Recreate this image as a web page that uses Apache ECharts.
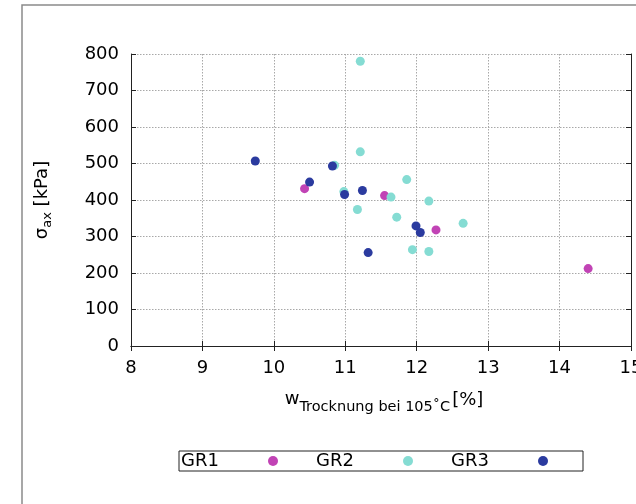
<!DOCTYPE html>
<html>
<head>
<meta charset="utf-8">
<script src="https://cdn.jsdelivr.net/npm/echarts@6/dist/echarts.min.js"></script>
<style>html,body{margin:0;padding:0;background:#fff}#c{width:636px;height:504px}</style>
</head>
<body>
<div id="c"></div>
<script>
const gr1 = [[10.43,431],[11.55,412],[12.27,318],[14.40,212]];
const gr2 = [[10.85,495],[11.21,780],[11.21,532],[11.86,456],[10.98,423],[11.64,408],[12.17,397],[11.17,374],[11.72,353],[12.65,336],[11.94,264],[12.17,259]];
const gr3 = [[9.74,507],[10.82,493],[10.50,449],[10.99,415],[11.24,426],[11.32,256],[11.99,329],[12.05,311]];
const seriesNames = ['GR1','GR2','GR3'];
const colors = ['#c143b5','#85dcd3','#2b3b9f'];

const font = '"DejaVu Sans", sans-serif';
const chart = echarts.init(document.getElementById('c'));
const gridLine = {show:true, lineStyle:{color:'#a8a8a8', type:[1.5,1.5], width:1}};
chart.setOption({
  animation:false,
  textStyle:{fontFamily:font},
  grid:{left:131, right:5, top:54, bottom:158, outerBoundsMode:'none', containLabel:false},
  graphic:[
    {type:'rect', shape:{x:22, y:5, width:700, height:600}, style:{fill:'none', stroke:'#8a8a8a', lineWidth:1.5}, silent:true},
    {type:'text', x:384, y:403, style:{text:'{w|w}{s|Trocknung bei 105˚C}{p|[%]}', align:'center', verticalAlign:'middle',
      rich:{
        w:{fontSize:18, fontFamily:font, fill:'#000', padding:[0,0,8,0]},
        s:{fontSize:14.5, fontFamily:font, fill:'#000', padding:[8,2,0,0]},
        p:{fontSize:18, fontFamily:font, fill:'#000', padding:[0,0,6,0]}
      }}},
    {type:'text', x:44, y:200, rotation:Math.PI/2, style:{text:'{a|σ}{b|ax}{a| [kPa]}', align:'center', verticalAlign:'middle',
      rich:{
        a:{fontSize:18, fontFamily:font, fill:'#000', padding:[0,0,4,0]},
        b:{fontSize:13, fontFamily:font, fill:'#000', padding:[8,0,0,0]}
      }}}
  ],
  legend:{
    data:seriesNames, left:179, top:451, orient:'horizontal', align:'right',
    itemWidth:10, itemHeight:10, itemGap:38,
    icon:'circle',
    padding:[1,35,1,2],
    borderColor:'#222', borderWidth:1,
    formatter:function(n){return '{t|'+n+'}';},
    textStyle:{fontSize:18, color:'#000', fontFamily:font,
      rich:{t:{width:82, align:'left', fontSize:18, fontFamily:font, color:'#000'}}}
  },
  xAxis:[{
    type:'value', min:8, max:15, interval:1,
    axisLine:{show:true, onZero:false, lineStyle:{color:'#222', width:1}},
    axisTick:{show:true, inside:true, length:5, lineStyle:{color:'#222'}},
    axisLabel:{fontSize:18, color:'#000', margin:13, fontFamily:font},
    splitLine:gridLine
  },{
    type:'value', position:'top', min:8, max:15, interval:1,
    axisLine:{show:true, lineStyle:{color:'#222', width:1}},
    axisTick:{show:true, inside:true, length:5, lineStyle:{color:'#222'}},
    axisLabel:{show:false}, splitLine:{show:false}
  }],
  yAxis:[{
    type:'value', min:0, max:800, interval:100,
    axisLine:{show:true, onZero:false, lineStyle:{color:'#222', width:1}},
    axisTick:{show:true, inside:true, length:5, lineStyle:{color:'#222'}},
    axisLabel:{fontSize:18, color:'#000', margin:12, fontFamily:font},
    splitLine:gridLine
  },{
    type:'value', position:'right', min:0, max:800, interval:100,
    axisLine:{show:true, lineStyle:{color:'#222', width:1}},
    axisTick:{show:true, inside:true, length:5, lineStyle:{color:'#222'}},
    axisLabel:{show:false}, splitLine:{show:false}
  }],
  series:[
    {name:'GR1', type:'scatter', data:gr1, symbolSize:9, itemStyle:{color:colors[0], opacity:1}},
    {name:'GR2', type:'scatter', data:gr2, symbolSize:9, itemStyle:{color:colors[1], opacity:1}},
    {name:'GR3', type:'scatter', data:gr3, symbolSize:9, itemStyle:{color:colors[2], opacity:1}}
  ]
});
</script>
</body>
</html>
